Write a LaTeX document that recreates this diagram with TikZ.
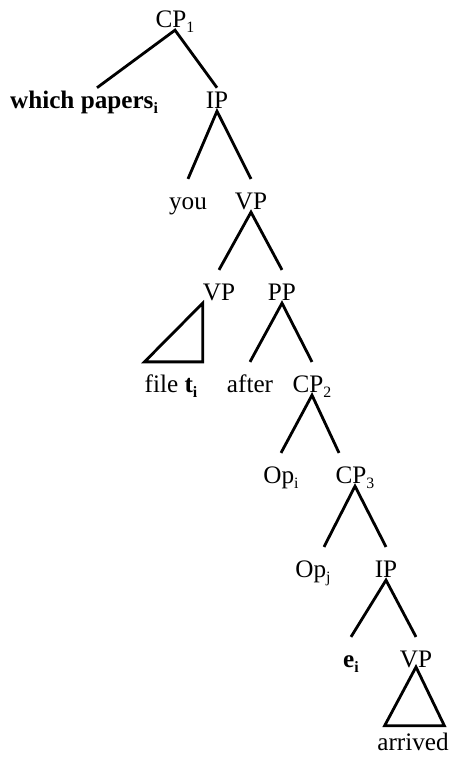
\documentclass[tikz,border=0pt]{standalone}
\usepackage{fontspec}
\setmainfont{Liberation Serif}
\newcommand{\idx}[1]{\raisebox{-5pt}{\fontsize{13.5}{13.5}\selectfont #1}}
\tikzset{
  lab/.style={font=\fontsize{21.5}{24}\selectfont, anchor=base,
    inner xsep=0pt, inner ysep=2.5pt, text height=23pt, text depth=0pt},
  branch/.style={line width=2.4pt, draw=black}
}

\begin{document}
\begin{tikzpicture}
\path[use as bounding box] (0,0) rectangle (13.5,-22.83);

% labels, row by row
\node[lab] (cpone) at (5.25,-.81) {CP\idx{1}};
\node[lab, text height=14.6pt] (which) at (2.52,-3.24) {\textbf{which papers\idx{i}}};
\node[lab, text height=14.6pt] (ipone) at (6.51,-3.24) {IP};
\node[lab] (you) at (5.64,-6.27) {you};
\node[lab] (vpone) at (7.53,-6.27) {VP};
\node[lab] (vptwo) at (6.57,-9.00) {VP};
\node[lab] (pp) at (8.46,-9.00) {PP};
\node[lab] (file) at (5.13,-11.76) {file \textbf{t\idx{i}}};
\node[lab] (after) at (7.50,-11.76) {after};
\node[lab] (cptwo) at (9.36,-11.76) {CP\idx{2}};
\node[lab] (opi) at (8.43,-14.49) {Op\idx{i}};
\node[lab] (cpthree) at (10.65,-14.49) {CP\idx{3}};
\node[lab] (opj) at (9.39,-17.31) {Op\idx{j}};
\node[lab] (iptwo) at (11.58,-17.31) {IP};
\node[lab] (ei) at (10.53,-20.01) {\textbf{e\idx{i}}};
\node[lab] (vpthree) at (12.48,-20.01) {VP};
\node[lab, text height=18pt] (arrived) at (12.39,-22.50) {arrived};

% branches
\draw[branch] ([xshift=.39cm]which.north) -- (cpone.south) -- (ipone.north);
\draw[branch] (you.north) -- (ipone.south) -- (vpone.north);
\draw[branch] (vptwo.north) -- (vpone.south) -- (pp.north);
\draw[branch] (after.north) -- (pp.south) -- (cptwo.north);
\draw[branch] (opi.north) -- (cptwo.south) -- ([xshift=-.48cm]cpthree.north);
\draw[branch] ([xshift=.33cm]opj.north) -- (cpthree.south) -- (iptwo.north);
\draw[branch] (ei.north) -- (iptwo.south) -- (vpthree.north);

% roofs
\draw[branch] (vptwo.south west) -- (file.north west)
  -- (vptwo.south west |- file.north) -- cycle;
\draw[branch] (vpthree.base) -- ([xshift=.225cm]arrived.north west)
  -- ([xshift=-.135cm]arrived.north east) -- cycle;
\end{tikzpicture}
\end{document}
